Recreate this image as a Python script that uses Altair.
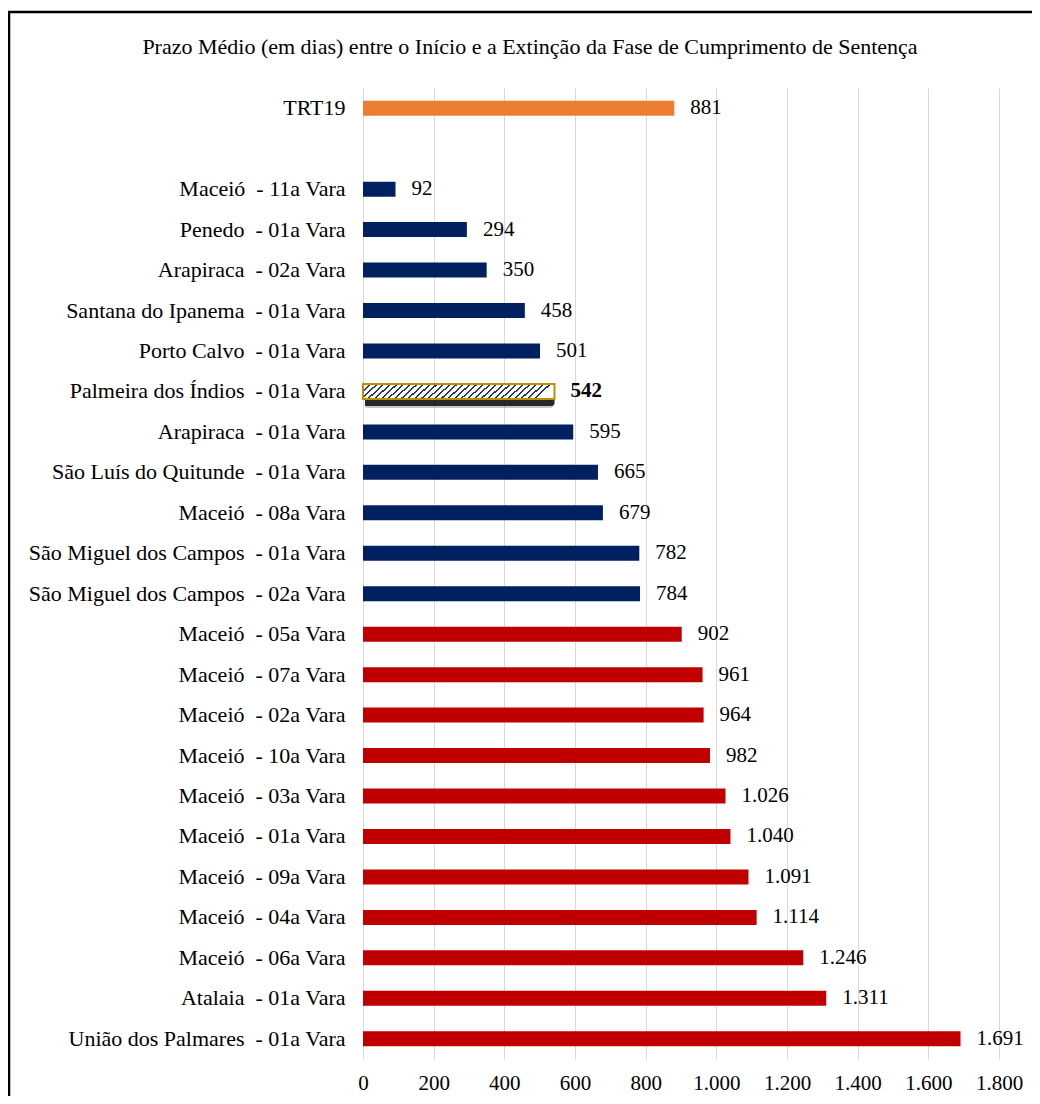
import altair as alt
import pandas as pd

NB = "\u00a0"

# ---- data ----
unidades = [
    "TRT19",
    "Maceió - 11a Vara",
    "Penedo - 01a Vara",
    "Arapiraca - 02a Vara",
    "Santana do Ipanema - 01a Vara",
    "Porto Calvo - 01a Vara",
    "Palmeira dos Índios - 01a Vara",
    "Arapiraca - 01a Vara",
    "São Luís do Quitunde - 01a Vara",
    "Maceió - 08a Vara",
    "São Miguel dos Campos - 01a Vara",
    "São Miguel dos Campos - 02a Vara",
    "Maceió - 05a Vara",
    "Maceió - 07a Vara",
    "Maceió - 02a Vara",
    "Maceió - 10a Vara",
    "Maceió - 03a Vara",
    "Maceió - 01a Vara",
    "Maceió - 09a Vara",
    "Maceió - 04a Vara",
    "Maceió - 06a Vara",
    "Atalaia - 01a Vara",
    "União dos Palmares - 01a Vara",
]
prazos = [881, 92, 294, 350, 458, 501, 542, 595, 665, 679, 782, 784,
          902, 961, 964, 982, 1026, 1040, 1091, 1114, 1246, 1311, 1691]
grupos = (["TRT19"] + ["abaixo"] * 5 + ["destaque"] + ["abaixo"] * 5
          + ["acima"] * 11)
ticks_x = [0, 200, 400, 600, 800, 1000, 1200, 1400, 1600, 1800]
titulo = "Prazo Médio (em dias) entre o Início e a Extinção da Fase de Cumprimento  de Sentença"

rotulos = [u.replace(" - ", NB + " - ") for u in unidades]
ordem = [rotulos[0], " "] + rotulos[1:]

df = pd.DataFrame({"unidade": rotulos, "prazo": prazos, "grupo": grupos})

FONT = "Liberation Serif"

# hatch pattern approximated with a striped linear gradient
stops = []
n = 29
for i in range(n):
    a = i / n
    b = (i + 0.32) / n
    c = (i + 1) / n
    stops += [
        alt.GradientStop(offset=a, color="#1F3864"),
        alt.GradientStop(offset=b, color="#1F3864"),
        alt.GradientStop(offset=b, color="#ffffff"),
        alt.GradientStop(offset=c, color="#ffffff"),
    ]
hatch = alt.LinearGradient(gradient="linear", stops=stops, x1=0, y1=0, x2=1, y2=0.085)

y_enc = alt.Y("unidade:N", sort=ordem,
              scale=alt.Scale(domain=ordem, paddingInner=0, paddingOuter=0),
              axis=alt.Axis(title=None, labelFont=FONT, labelFontSize=22,
                            labelColor="#000000", labelPadding=18, labelLimit=500,
                            domain=False, ticks=False, grid=False))
x_enc = alt.X("prazo:Q", scale=alt.Scale(domain=[0, 1800], nice=False),
              axis=alt.Axis(title=None, values=ticks_x,
                            labelExpr="replace(format(datum.value, ','), ',', '.')",
                            labelFont=FONT, labelFontSize=21, labelColor="#000000",
                            labelPadding=13, labelFlush=False, labelOverlap=False,
                            domain=False, ticks=False,
                            grid=True, gridColor="#D9D9D9", gridWidth=1))

base = alt.Chart(df).encode(y=y_enc)

bars = base.mark_bar(size=15).encode(
    x=x_enc,
    color=alt.Color("grupo:N",
                    scale=alt.Scale(domain=["TRT19", "abaixo", "acima"],
                                    range=["#ED7D31", "#002060", "#C00000"]),
                    legend=None),
).transform_filter("datum.grupo != 'destaque'")

shadow_soft = base.mark_bar(size=17, color="#000000", opacity=0.22, yOffset=8, xOffset=2,
                            cornerRadius=5).encode(
    x=alt.X("prazo:Q")
).transform_filter("datum.grupo == 'destaque'")

shadow = base.mark_bar(size=13, color="#000000", opacity=0.8, yOffset=8, xOffset=2,
                       cornerRadius=3).encode(
    x=alt.X("prazo:Q")
).transform_filter("datum.grupo == 'destaque'")

destaque = base.mark_bar(size=15, fill=hatch, stroke="#BF9000", strokeWidth=2).encode(
    x=alt.X("prazo:Q")
).transform_filter("datum.grupo == 'destaque'")

labels = base.mark_text(align="left", baseline="middle", dx=16, font=FONT,
                        fontSize=21, color="#000000").encode(
    x=alt.X("prazo:Q"), text="rotulo:N"
).transform_calculate(
    rotulo="replace(format(datum.prazo, ','), ',', '.')"
).transform_filter("datum.grupo != 'destaque'")

label_b = base.mark_text(align="left", baseline="middle", dx=16, font=FONT,
                         fontSize=21, fontWeight="bold", color="#000000").encode(
    x=alt.X("prazo:Q"), text="rotulo:N"
).transform_calculate(
    rotulo="replace(format(datum.prazo, ','), ',', '.')"
).transform_filter("datum.grupo == 'destaque'")

one = pd.DataFrame({"k": [0]})
border_top = alt.Chart(one).mark_rule(color="#000000", strokeWidth=2.5).encode(
    x=alt.value(-355), x2=alt.value(700), y=alt.value(-76))
border_left = alt.Chart(one).mark_rule(color="#000000", strokeWidth=2.5).encode(
    x=alt.value(-354), y=alt.value(-77), y2=alt.value(1100))

title_mark = alt.Chart(one).mark_text(
    font=FONT, fontSize=22, color="#000000", align="center", baseline="middle"
).encode(x=alt.value(167), y=alt.value(-41), text=alt.value(titulo))

chart = alt.layer(border_top, border_left, title_mark, bars, shadow_soft, shadow,
                  destaque, labels, label_b).properties(
    width=636,
    height=971,
    autosize=alt.AutoSizeParams(type="none"),
    padding={"left": 355, "top": 80, "right": 33, "bottom": 37},
).configure_view(strokeWidth=0)

chart.save("out.html", embed_options={"renderer": "svg", "actions": False})
